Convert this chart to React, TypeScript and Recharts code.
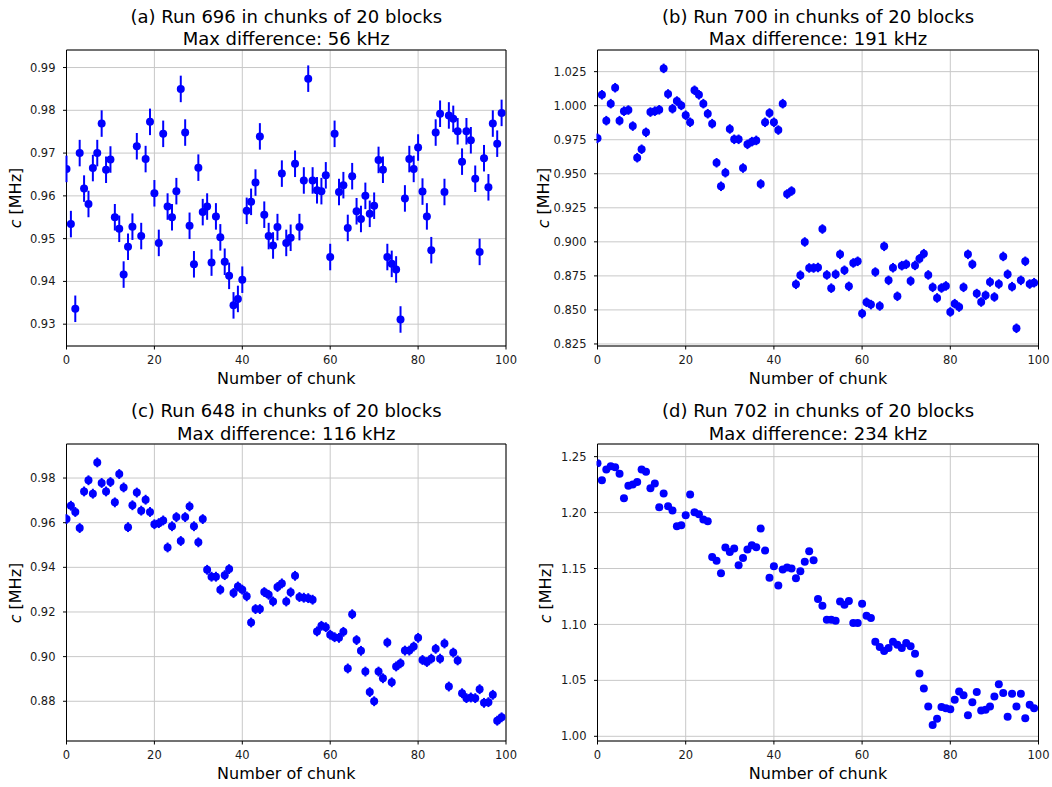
import { ScatterChart, Scatter, XAxis, YAxis, CartesianGrid, ErrorBar, ReferenceArea } from 'recharts';

const FONT = '"DejaVu Sans", "Liberation Sans", sans-serif';
const BLUE = '#0000ff';
const INK = '#1a1a1a';

// chunk index runs 0..99 on every panel
const chunkTicks = [0, 20, 40, 60, 80, 100];

// fitted c per chunk, MHz
const run696 = [
  0.9663, 0.9534, 0.9336, 0.9700, 0.9617, 0.9581, 0.9665, 0.9700, 0.9769, 0.9661,
  0.9685, 0.9550, 0.9523, 0.9416, 0.9481, 0.9528, 0.9716, 0.9506, 0.9686, 0.9773,
  0.9606, 0.9490, 0.9745, 0.9575, 0.9550, 0.9611, 0.9850, 0.9748, 0.9530, 0.9440,
  0.9666, 0.9562, 0.9575, 0.9444, 0.9552, 0.9503, 0.9446, 0.9413, 0.9344, 0.9359,
  0.9404, 0.9565, 0.9586, 0.9631, 0.9739, 0.9556, 0.9506, 0.9484, 0.9527, 0.9652,
  0.9490, 0.9502, 0.9675, 0.9527, 0.9636, 0.9874, 0.9636, 0.9613, 0.9611, 0.9648,
  0.9457, 0.9745, 0.9609, 0.9625, 0.9525, 0.9646, 0.9564, 0.9546, 0.9600, 0.9558,
  0.9577, 0.9684, 0.9661, 0.9457, 0.9441, 0.9428, 0.9311, 0.9594, 0.9686, 0.9663,
  0.9713, 0.9610, 0.9552, 0.9473, 0.9748, 0.9792, 0.9609, 0.9788, 0.9780, 0.9751,
  0.9680, 0.9751, 0.9730, 0.9640, 0.9469, 0.9688, 0.9620, 0.9769, 0.9722, 0.9794,
];
const err696 = 0.0031;
const ticks696 = [0.93, 0.94, 0.95, 0.96, 0.97, 0.98, 0.99];

const run700 = [
  0.9760, 1.0080, 0.9890, 1.0015, 1.0132, 0.9890, 0.9960, 0.9968, 0.9850, 0.9618,
  0.9680, 0.9804, 0.9953, 0.9960, 0.9970, 1.0274, 1.0086, 0.9978, 1.0034, 1.0002,
  0.9930, 0.9878, 1.0113, 1.0080, 1.0015, 0.9941, 0.9868, 0.9581, 0.9408, 0.9508,
  0.9829, 0.9753, 0.9753, 0.9542, 0.9716, 0.9736, 0.9745, 0.9425, 0.9878, 0.9946,
  0.9878, 0.9821, 1.0015, 0.9351, 0.9373, 0.8688, 0.8755, 0.8999, 0.8808, 0.8808,
  0.8812, 0.9094, 0.8757, 0.8660, 0.8762, 0.8908, 0.8791, 0.8673, 0.8845, 0.8857,
  0.8473, 0.8556, 0.8539, 0.8778, 0.8529, 0.8967, 0.8717, 0.8810, 0.8600, 0.8825,
  0.8835, 0.8712, 0.8827, 0.8876, 0.8913, 0.8757, 0.8666, 0.8588, 0.8661, 0.8676,
  0.8485, 0.8546, 0.8521, 0.8666, 0.8908, 0.8835, 0.8620, 0.8558, 0.8607, 0.8705,
  0.8595, 0.8690, 0.8893, 0.8762, 0.8671, 0.8365, 0.8717, 0.8857, 0.8690, 0.8700,
];
const err700 = 0.0035;
const ticks700 = [0.825, 0.85, 0.875, 0.9, 0.925, 0.95, 0.975, 1.0, 1.025];

const run648 = [
  0.9616, 0.9676, 0.9648, 0.9576, 0.9740, 0.9790, 0.9730, 0.9870, 0.9778, 0.9740,
  0.9782, 0.9691, 0.9818, 0.9758, 0.9580, 0.9678, 0.9735, 0.9654, 0.9703, 0.9648,
  0.9593, 0.9598, 0.9610, 0.9489, 0.9584, 0.9625, 0.9518, 0.9625, 0.9673, 0.9584,
  0.9512, 0.9616, 0.9389, 0.9358, 0.9358, 0.9300, 0.9365, 0.9392, 0.9285, 0.9314,
  0.9300, 0.9270, 0.9153, 0.9213, 0.9213, 0.9289, 0.9277, 0.9247, 0.9312, 0.9328,
  0.9247, 0.9288, 0.9362, 0.9267, 0.9264, 0.9262, 0.9255, 0.9113, 0.9138, 0.9132,
  0.9098, 0.9087, 0.9084, 0.9111, 0.8947, 0.9190, 0.9074, 0.9026, 0.8933, 0.8841,
  0.8800, 0.8933, 0.8903, 0.9063, 0.8885, 0.8956, 0.8970, 0.9027, 0.9027, 0.9045,
  0.9084, 0.8985, 0.8976, 0.8991, 0.9035, 0.8991, 0.9059, 0.8866, 0.9018, 0.8983,
  0.8836, 0.8814, 0.8817, 0.8814, 0.8854, 0.8793, 0.8796, 0.8829, 0.8713, 0.8728,
];
const err648 = 0.0022;
const ticks648 = [0.88, 0.9, 0.92, 0.94, 0.96, 0.98];

const run702 = [
  1.2440, 1.2289, 1.2385, 1.2415, 1.2406, 1.2346, 1.2128, 1.2239, 1.2251, 1.2274,
  1.2385, 1.2364, 1.2218, 1.2260, 1.2048, 1.2170, 1.2057, 1.2018, 1.1878, 1.1887,
  1.1976, 1.2161, 1.2003, 1.1985, 1.1937, 1.1922, 1.1603, 1.1570, 1.1457, 1.1687,
  1.1648, 1.1678, 1.1529, 1.1594, 1.1669, 1.1708, 1.1690, 1.1857, 1.1660, 1.1418,
  1.1520, 1.1347, 1.1490, 1.1508, 1.1500, 1.1412, 1.1475, 1.1561, 1.1654, 1.1573,
  1.1227, 1.1167, 1.1042, 1.1042, 1.1033, 1.1206, 1.1177, 1.1209, 1.1013, 1.1013,
  1.1186, 1.1078, 1.1057, 1.0845, 1.0798, 1.0762, 1.0789, 1.0845, 1.0819, 1.0789,
  1.0834, 1.0804, 1.0738, 1.0562, 1.0428, 1.0266, 1.0100, 1.0156, 1.0263, 1.0251,
  1.0242, 1.0326, 1.0400, 1.0367, 1.0189, 1.0305, 1.0395, 1.0231, 1.0237, 1.0266,
  1.0356, 1.0466, 1.0386, 1.0174, 1.0380, 1.0266, 1.0380, 1.0162, 1.0281, 1.0251,
];
const err702 = 0.002;
const ticks702 = [1.0, 1.05, 1.1, 1.15, 1.2, 1.25];

// space around each plot box inside its chart
const AXIS_W = 66.5;
const AXIS_H = 46;
const PAD_TOP = 50;
const PAD_RIGHT = 14;

interface PanelProps {
  title: string;
  maxDiff: string;
  values: number[];
  err: number;
  domain: [number, number];
  ticks: number[];
  digits: number;
  left: number;
  top: number;
  width: number;
  height: number;
  yLabelGap: number;
}

function RunPanel({ title, maxDiff, values, err, domain, ticks, digits, left, top, width, height, yLabelGap }: PanelProps) {
  const data = values.map((c, i) => ({ chunk: i, c, err }));
  const mid = left + width / 2;
  const text = (x: number, y: number, size: number, rotate = false): React.CSSProperties => ({
    position: 'absolute',
    left: x,
    top: y,
    transform: rotate ? 'translate(-50%,-50%) rotate(-90deg)' : 'translate(-50%,-50%)',
    fontSize: size,
    lineHeight: 1,
    whiteSpace: 'nowrap',
    color: '#000',
  });

  return (
    <>
      <div style={{ position: 'absolute', left: left - AXIS_W, top: top - PAD_TOP }}>
        <ScatterChart
          width={AXIS_W + width + PAD_RIGHT}
          height={PAD_TOP + height + AXIS_H}
          margin={{ top: PAD_TOP, right: PAD_RIGHT, bottom: 0, left: 0 }}
        >
          <CartesianGrid stroke="#c8c8c8" strokeWidth={1} />
          <XAxis
            type="number"
            dataKey="chunk"
            domain={[0, 100]}
            ticks={chunkTicks}
            interval={0}
            allowDataOverflow
            height={AXIS_H}
            axisLine={false}
            tickLine={{ stroke: '#000' }}
            tickSize={3.5}
            tickMargin={6.8}
            tick={{ fill: INK, fontSize: 11.5, fontFamily: FONT }}
          />
          <YAxis
            type="number"
            dataKey="c"
            domain={domain}
            ticks={ticks}
            interval={0}
            allowDataOverflow
            width={AXIS_W}
            axisLine={false}
            tickLine={{ stroke: '#000' }}
            tickSize={3.5}
            tickMargin={7.5}
            tick={{ fill: INK, fontSize: 11.5, fontFamily: FONT }}
            tickFormatter={(v: number) => v.toFixed(digits)}
          />
          <ReferenceArea
            x1={0}
            x2={100}
            y1={domain[0]}
            y2={domain[1]}
            fill="none"
            stroke="#000"
            strokeWidth={1}
            ifOverflow="visible"
          />
          <Scatter
            data={data}
            fill={BLUE}
            isAnimationActive={false}
            shape={(p: any) => <circle cx={p.cx} cy={p.cy} r={4} fill={BLUE} />}
          >
            <ErrorBar dataKey="err" direction="y" width={0} stroke={BLUE} strokeWidth={2} isAnimationActive={false} />
          </Scatter>
        </ScatterChart>
      </div>
      <div style={text(mid, top - 33.4, 18)}>{title}</div>
      <div style={text(mid, top - 10.8, 18)}>{maxDiff}</div>
      <div style={text(mid, top + height + 32.7, 16)}>Number of chunk</div>
      <div style={text(left - yLabelGap, top + height / 2, 16, true)}>
        <i>c</i> [MHz]
      </div>
    </>
  );
}

export default function App() {
  return (
    <div
      style={{
        position: 'absolute',
        left: 0,
        top: 0,
        width: 1052,
        height: 787,
        background: '#fff',
        fontFamily: FONT,
      }}
    >
      <RunPanel
        title="(a) Run 696 in chunks of 20 blocks"
        maxDiff="Max difference: 56 kHz"
        values={run696}
        err={err696}
        domain={[0.9249, 0.9941]}
        ticks={ticks696}
        digits={2}
        left={66.5}
        top={50}
        width={439.5}
        height={296}
        yLabelGap={51}
      />
      <RunPanel
        title="(b) Run 700 in chunks of 20 blocks"
        maxDiff="Max difference: 191 kHz"
        values={run700}
        err={err700}
        domain={[0.8235, 1.0409]}
        ticks={ticks700}
        digits={3}
        left={597.5}
        top={50}
        width={441}
        height={296}
        yLabelGap={54}
      />
      <RunPanel
        title="(c) Run 648 in chunks of 20 blocks"
        maxDiff="Max difference: 116 kHz"
        values={run648}
        err={err648}
        domain={[0.8622, 0.99525]}
        ticks={ticks648}
        digits={2}
        left={66.5}
        top={444.3}
        width={439.5}
        height={297}
        yLabelGap={51}
      />
      <RunPanel
        title="(d) Run 702 in chunks of 20 blocks"
        maxDiff="Max difference: 234 kHz"
        values={run702}
        err={err702}
        domain={[0.9958, 1.2613]}
        ticks={ticks702}
        digits={2}
        left={597.5}
        top={444.3}
        width={441}
        height={297}
        yLabelGap={52}
      />
    </div>
  );
}
